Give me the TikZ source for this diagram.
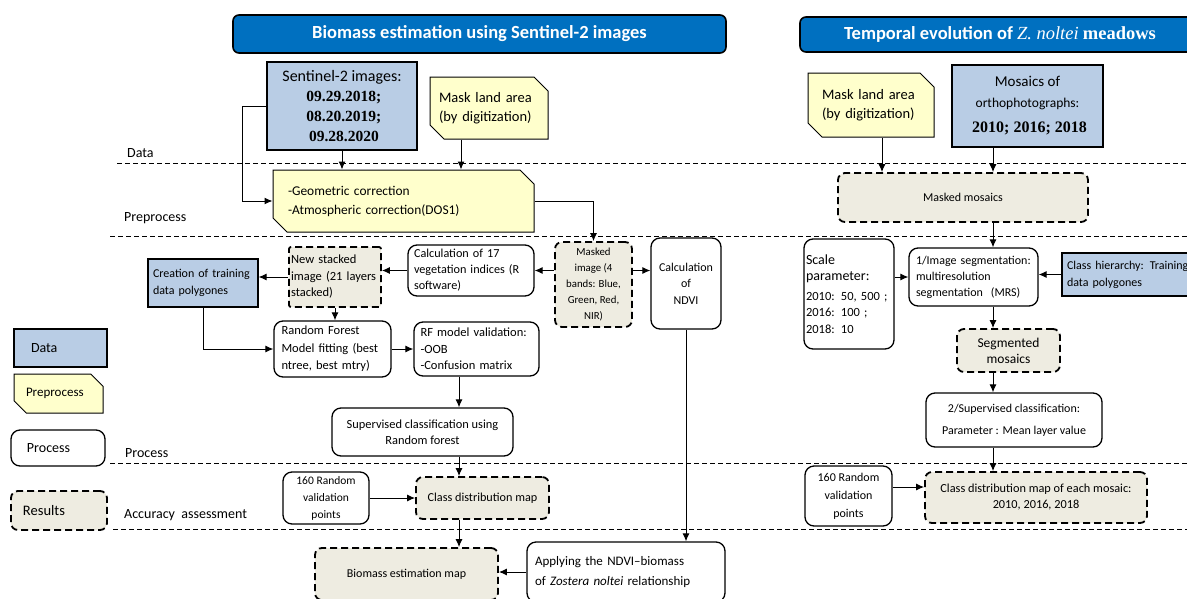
\documentclass[tikz,border=0pt]{standalone}
\usepackage{fontspec}
\setmainfont{Carlito}
\newfontfamily\tnr{Liberation Serif}
\usepackage{tikz}
\usetikzlibrary{arrows.meta, positioning, shapes.misc}
\definecolor{hdblue}{HTML}{0070C0}
\definecolor{datablue}{HTML}{B9CDE5}
\definecolor{prepyellow}{HTML}{FFFFCC}
\definecolor{resbeige}{HTML}{EEECE1}
\newcommand\fsz[2]{\fontsize{#1}{#2}\selectfont}

\begin{document}
\begin{tikzpicture}[x=1pt, y=-1pt,
  header/.style = {draw = black, fill = hdblue, rounded corners = 6pt, line width = 1.6pt, text = white, inner sep = 0pt, font = \fsz{18.5}{22}\bfseries},
  databox/.style = {draw, fill = datablue, line width = 1.8pt, inner sep = 0pt},
  prepbox/.style = {draw, fill = prepyellow, chamfered rectangle, chamfered rectangle corners = {north east, south west}, chamfered rectangle xsep = 7pt, chamfered rectangle ysep = 7pt, line width = 1pt, inner sep = 0pt},
  procbox/.style = {draw, fill = white, rounded corners = 9pt, line width = 1.3pt, inner sep = 0pt},
  resbox/.style = {draw, fill = resbeige, rounded corners = 7pt, line width = 1.8pt, dash pattern = on 7pt off 4pt, inner sep = 0pt},
  sepline/.style = {line width = 1pt, dash pattern = on 5pt off 3pt},
  arr/.style = {-{Latex[length = 8pt, width = 7pt]}, line width = 1pt},
  lbl/.style = {anchor = west, inner sep = 0pt, font = \fsz{14}{16}},
  font = \fsz{12}{16}
]
\useasboundingbox (0,0) rectangle (1187,598);
\clip (0,0) rectangle (1187,598);

% section lines and labels
\draw[sepline] (117,163) -- (1187,163);
\draw[sepline] (110,236) -- (1187,236);
\draw[sepline] (110,463) -- (1187,463);
\draw[sepline] (113,529) -- (1187,529);
\node[lbl] (ldata) at (127,153) {Data};
\node[lbl] (lprep) at (124,218) {Preprocess};
\node[lbl] (lproc) at (125,453) {Process};
\node[lbl] (lacc) at (124,515) {Accuracy\ \ assessment};

% legend
\node[databox, minimum width = 93pt, minimum height = 38pt, text width = 59pt, align = left, font = \fsz{14}{16}] (lgdata) at (60.5,348) {Data};
\node[prepbox, minimum width = 89pt, minimum height = 39pt, text width = 65pt, align = left, font = \fsz{13}{15}] (lgprep) at (58.5,393.5) {Preprocess};
\node[procbox, minimum width = 94pt, minimum height = 36pt, text width = 62pt, align = left, font = \fsz{14}{16}] (lgproc) at (58,448) {Process};
\node[resbox, minimum width = 96pt, minimum height = 39pt, text width = 72pt, align = left, font = \fsz{14.5}{16}] (lgres) at (59,510.5) {Results};

% headers
\node[header, minimum width = 493pt, minimum height = 38pt] (hd1) at (479.5,34) {Biomass estimation using Sentinel-2 images};
\node[header, minimum width = 400pt, minimum height = 35pt] (hd2) at (1000,34.5) {Temporal evolution of {\tnr\mdseries\itshape Z. noltei} {\tnr meadows}};

% biomass part
\node[databox, minimum width = 150pt, minimum height = 88pt, align = center, font = \fsz{16}{20}] (sent) at (342,106) {Sentinel-2 images:\\{\tnr\bfseries\fsz{15.5}{20} 09.29.2018;}\\{\tnr\bfseries\fsz{15.5}{20} 08.20.2019;}\\{\tnr\bfseries\fsz{15.5}{20} 09.28.2020}};
\node[prepbox, minimum width = 118pt, minimum height = 62pt, text width = 100pt, align = left, font = \fsz{14.5}{19}] (mask1) at (489,108) {Mask land area\\(by digitization)};
\node[prepbox, minimum width = 261pt, minimum height = 62pt, text width = 231pt, align = left, font = \fsz{13.4}{19}] (pre) at (403.5,201) {-Geometric correction\\-Atmospheric correction(DOS1)};

\node[resbox, minimum width = 77pt, minimum height = 85pt, align = center, font = \fsz{10.8}{16}] (masked) at (593.5,284.5) {Masked\\image (4\\bands: Blue,\\Green, Red,\\NIR)};
\node[procbox, minimum width = 70pt, minimum height = 91pt, align = center, font = \fsz{12}{16.5}] (ndvi) at (686,283.5) {Calculation\\of\\NDVI};
\node[procbox, minimum width = 126pt, minimum height = 51pt, text width = 114pt, align = left, font = \fsz{12.2}{16}] (calc) at (471,270.5) {Calculation of 17\\vegetation indices (R\\software)};
\node[resbox, rounded corners = 2pt, minimum width = 92pt, minimum height = 60pt, text width = 88pt, align = left, font = \fsz{12.5}{16.5}] (stack) at (335,277) {New stacked\\image (21 layers\\stacked)};
\node[databox, line width = 1.2pt, minimum width = 110pt, minimum height = 48pt, text width = 100pt, align = left, font = \fsz{12}{17}] (train) at (203,283) {Creation of training\\data polygones};
\node[procbox, minimum width = 117pt, minimum height = 56pt, text width = 102pt, align = left, font = \fsz{12.5}{17.5}] (rf) at (332.5,349) {Random Forest\\Model fitting (best\\ntree, best mtry)};
\node[procbox, minimum width = 125pt, minimum height = 54pt, text width = 112pt, align = left, font = \fsz{12.5}{16.5}] (rfval) at (476.5,349) {RF model validation:\\-OOB\\-Confusion matrix};
\node[procbox, minimum width = 181pt, minimum height = 48pt, align = center, font = \fsz{12.4}{16}] (sup) at (422.5,432) {Supervised classification using\\Random forest};
\node[procbox, minimum width = 86pt, minimum height = 52pt, align = center, font = \fsz{11.5}{17}] (rv1) at (326,498) {160 Random\\validation\\points};
\node[resbox, minimum width = 133pt, minimum height = 42pt, align = center, font = \fsz{12.2}{14}] (cdm) at (482.5,498) {Class distribution map};
\node[resbox, minimum width = 183pt, minimum height = 52pt, align = center, font = \fsz{12}{14}] (bio) at (406.5,574) {Biomass estimation map};
\node[procbox, minimum width = 198pt, minimum height = 60pt, text width = 182pt, align = left, font = \fsz{13}{20}] (app) at (626,572) {Applying the NDVI--biomass\\of \textit{Zostera noltei} relationship};

\coordinate (vx) at (459,0);
\draw[arr] (sent.south) -- (sent.south |- pre.north);
\draw[arr] ([xshift = -28pt]mask1.south) -- ([xshift = -28pt]mask1.south |- pre.north);
\draw[arr] (sent.west) -- ++(-24,0) |- (pre.west);
\draw[arr] (pre.east) -| (masked.north);
\draw[arr] (masked.west |- calc.east) -- (calc.east);
\draw[arr] (masked.east |- calc.east) -- (ndvi.west |- calc.east);
\draw[arr] (calc.west) -- (stack.east |- calc.west);
\draw[arr] (stack.west) -- (stack.west -| train.east);
\draw[arr] (stack.south) -- (stack.south |- rf.north);
\draw[arr] (train.south) |- (rf.west);
\draw[arr] (rf.east) -- (rfval.west);
\draw[arr] (rfval.south -| vx) -- (sup.north -| vx);
\draw[arr] (sup.south -| vx) -- (cdm.north -| vx);
\draw[arr] (rv1.east) -- (cdm.west);
\draw[arr] (cdm.south -| vx) -- (bio.north -| vx);
\draw[arr] (ndvi.south) -- (ndvi.south |- app.north);
\draw[arr] (app.west) -- (bio.east |- app.west);

% temporal part
\node[prepbox, minimum width = 126pt, minimum height = 64pt, text width = 98pt, align = left, font = \fsz{14.5}{19}] (mask2) at (871,105) {Mask land area\\(by digitization)};
\node[databox, minimum width = 151pt, minimum height = 82pt, align = center, font = \fsz{13.5}{21}] (mos) at (1027.5,106) {{\fsz{15}{21}Mosaics of}\\orthophotographs:\\[4pt]{\tnr\bfseries\fsz{16}{20} 2010; 2016; 2018}};
\node[resbox, minimum width = 250pt, minimum height = 49pt, align = center, font = \fsz{12}{14}] (mmos) at (963,197.5) {Masked mosaics};
\node[procbox, minimum width = 90pt, minimum height = 110pt, text width = 86pt, align = left, font = \fsz{12.5}{16.5}] (scale) at (849,294) {{\fsz{14}{17}Scale\\parameter:}\\[3pt]2010: 50, 500 ;\\2016: 100 ;\\2018: 10};
\node[procbox, minimum width = 129pt, minimum height = 58pt, text width = 115pt, align = left, font = \fsz{12}{16}] (seg) at (973.5,277) {1/Image segmentation:\\multiresolution\\segmentation\ \ (MRS)};
\node[databox, line width = 1.2pt, minimum width = 138pt, minimum height = 43pt, text width = 128pt, align = left, font = \fsz{12}{17}] (hier) at (1131,274.5) {Class hierarchy: Training\\data polygones};
\node[resbox, minimum width = 103pt, minimum height = 43pt, align = center, font = \fsz{13.5}{16}] (segm) at (1008.5,350.5) {Segmented\\mosaics};
\node[procbox, minimum width = 176pt, minimum height = 54pt, align = center, font = \fsz{12}{22}] (sup2) at (1014,420) {2/Supervised classification:\\Parameter : Mean layer value};
\node[procbox, minimum width = 87pt, minimum height = 60pt, align = center, font = \fsz{12}{18}] (rv2) at (848.5,496) {160 Random\\validation\\points};
\node[resbox, minimum width = 222pt, minimum height = 51pt, align = center, font = \fsz{12.3}{16}] (cdm2) at (1036,497.5) {Class distribution map of each mosaic:\\2010, 2016, 2018};

\coordinate (rx1) at (882,0);
\coordinate (rx2) at (993,0);
\draw[arr] (mask2.south -| rx1) -- (mmos.north -| rx1);
\draw[arr] (mos.south -| rx2) -- (mmos.north -| rx2);
\draw[arr] (mmos.south -| rx2) -- (seg.north -| rx2);
\draw[arr] (seg.west -| scale.east) -- (seg.west);
\draw[arr] (hier.west) -- (hier.west -| seg.east);
\draw[arr] (seg.south -| rx2) -- (segm.north -| rx2);
\draw[arr] (segm.south -| rx2) -- (sup2.north -| rx2);
\draw[arr] (sup2.south -| rx2) -- (cdm2.north -| rx2);
\draw[arr] ([yshift = 9pt]rv2.east) -- ([yshift = 9pt]rv2.east -| cdm2.west);
\end{tikzpicture}
\end{document}
